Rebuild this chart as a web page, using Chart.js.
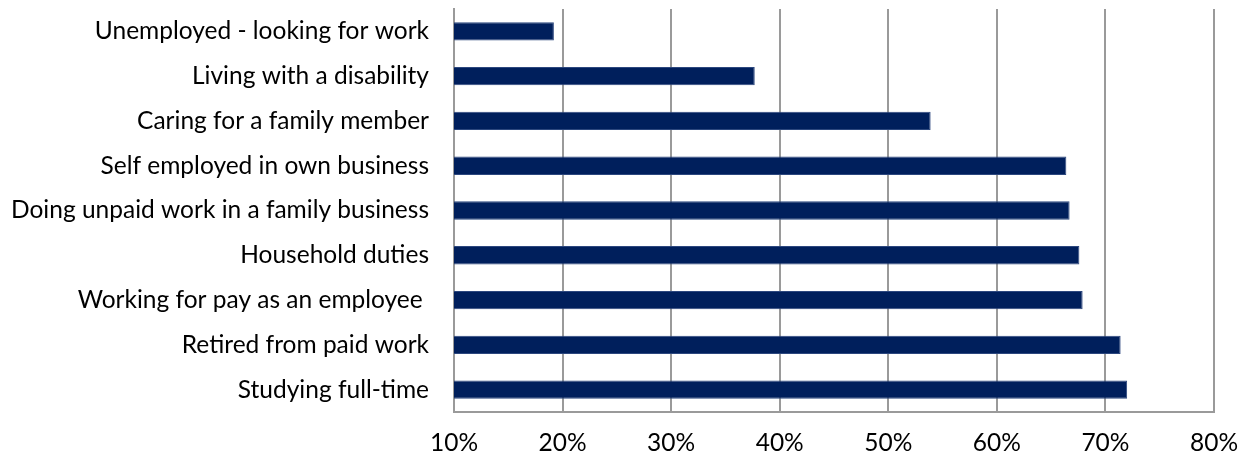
<!DOCTYPE html>
<html>
<head>
<meta charset="utf-8">
<script src="https://cdn.jsdelivr.net/npm/chart.js@4"></script>
<style>
  html, body { margin: 0; padding: 0; background: #fff; }
  #wrap { width: 1250px; height: 457px; }
</style>
</head>
<body>
<div id="wrap"><canvas id="statusChart"></canvas></div>
<script>
// Share of respondents by main activity
const categories = [
    'Unemployed - looking for work',
    'Living with a disability',
    'Caring for a family member',
    'Self employed in own business',
    'Doing unpaid work in a family business',
    'Household duties',
    'Working for pay as an employee ',
    'Retired from paid work',
    'Studying full-time'
];
const values = [19.2, 37.7, 53.9, 66.4, 66.7, 67.6, 67.9, 71.4, 72.0];
const xTicks = [10, 20, 30, 40, 50, 60, 70, 80];

// plot box edges in px
const plotTop = 9, plotBottom = 412, plotLeft = 454, plotRight = 1214;

// pin the chart area so the axes land at fixed pixel positions
const pinArea = {
    id: 'pinArea',
    afterLayout(chart) {
        const x = chart.scales.x, y = chart.scales.y;
        Object.assign(chart.chartArea, {
            top: plotTop, bottom: plotBottom, left: plotLeft, right: plotRight,
            width: plotRight - plotLeft, height: plotBottom - plotTop
        });
        y.top = plotTop; y.bottom = plotBottom; y.height = plotBottom - plotTop;
        y.left = 0; y.right = plotLeft; y.width = plotLeft;
        x.top = plotBottom; x.bottom = plotBottom + 45; x.height = 45;
        x.left = plotLeft; x.right = plotRight; x.width = plotRight - plotLeft;
        x.configure(); y.configure();
    }
};

const ctx = document.getElementById('statusChart').getContext('2d');
const statusChart = new Chart(ctx, {
    type: 'bar',
    data: {
        labels: categories,
        datasets: [{
            data: values,
            backgroundColor: '#001f5c',
            borderColor: '#2c477e',
            borderWidth: 1,
            borderSkipped: 'start',
            categoryPercentage: 1,
            barPercentage: 0.41
        }]
    },
    options: {
        indexAxis: 'y',
        responsive: true,
        maintainAspectRatio: false,
        animation: false,
        layout: {
            padding: { top: 0, right: 1250 - plotRight, left: 0, bottom: 0 }
        },
        plugins: {
            legend: { display: false },
            tooltip: { enabled: false }
        },
        scales: {
            x: {
                min: xTicks[0],
                max: xTicks[xTicks.length - 1],
                afterBuildTicks: function(scale) {
                    scale.ticks = xTicks.map(v => ({ value: v }));
                },
                afterFit: function(scale) {
                    scale.height = 45;
                },
                grid: {
                    color: '#9a9a9a',
                    lineWidth: 2,
                    drawTicks: false
                },
                border: { display: true, color: '#9a9a9a', width: 2 },
                ticks: {
                    padding: 16,
                    color: '#000',
                    font: { family: 'Lato', size: 24.5 },
                    callback: v => v + '%'
                }
            },
            y: {
                afterFit: function(scale) {
                    scale.width = plotLeft;
                },
                grid: { display: false, drawTicks: false },
                border: { display: true, color: '#9a9a9a', width: 2 },
                ticks: {
                    padding: 25,
                    color: '#000',
                    font: { family: 'Lato', size: 24.5 }
                }
            }
        }
    },
    plugins: [pinArea]
});
</script>
</body>
</html>
